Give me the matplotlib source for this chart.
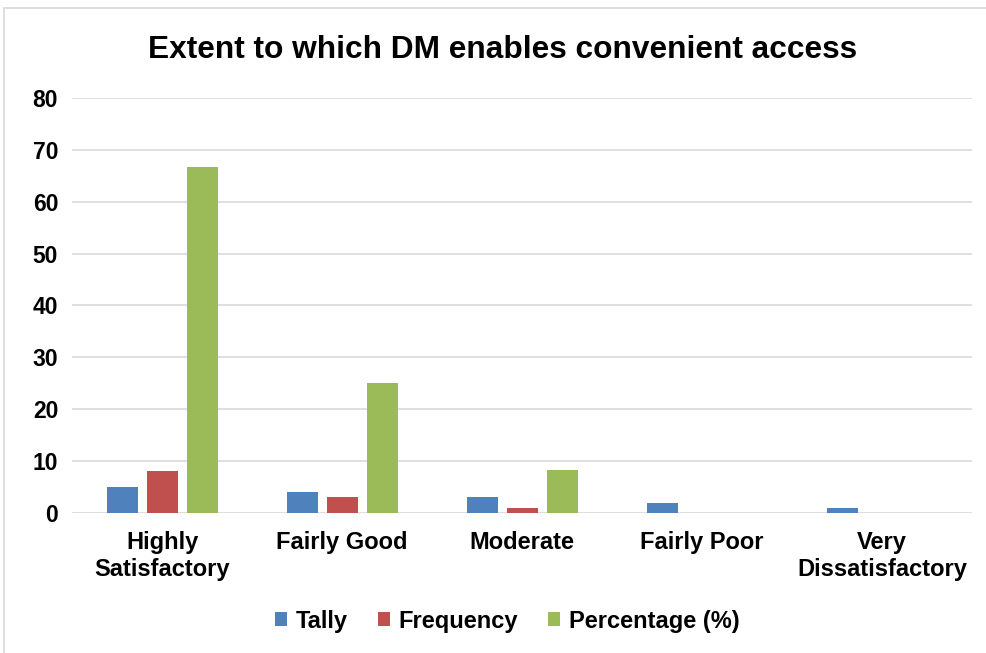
import matplotlib
matplotlib.use("Agg")
import matplotlib.pyplot as plt
import numpy as np
from matplotlib.patches import Rectangle

# Chart data
categories = ["Highly\nSatisfactory", "Fairly Good", "Moderate", "Fairly Poor", "Very\nDissatisfactory"]
tally = [5, 4, 3, 2, 1]
frequency = [8, 3, 1, 0, 0]
percentage = [66.67, 25, 8.33, 0, 0]

series_names = ["Tally", "Frequency", "Percentage (%)"]
colors = ["#4F81BD", "#C0504D", "#9BBB59"]

plt.rcParams["font.family"] = ["Liberation Sans", "DejaVu Sans"]
plt.rcParams["font.weight"] = "bold"

fig = plt.figure(figsize=(9.87, 6.53), dpi=100)
ax = fig.add_axes([0.073, 0.2144, 0.912, 0.6356])

x = np.arange(len(categories))
width = 0.172
step = 0.222
for i, (vals, name, col) in enumerate(zip([tally, frequency, percentage], series_names, colors)):
    ax.bar(x + (i - 1) * step, vals, width, color=col, label=name, zorder=3)

ax.set_xlim(-0.5, len(categories) - 0.5)
ax.set_ylim(0, 80)
ax.set_yticks(range(0, 81, 10))
ax.set_xticks(x)
ax.set_xticklabels(categories, fontsize=17, fontweight="bold", linespacing=1.2)
ax.tick_params(axis="y", labelsize=16.5, length=0, pad=10)
ax.tick_params(axis="x", length=0, pad=13)
for lbl in ax.get_yticklabels():
    lbl.set_fontweight("bold")

ax.grid(axis="y", color="#D9D9D9", linewidth=1.2, zorder=0)
for s in ax.spines.values():
    s.set_visible(False)

fig.text(0.509, 0.924, "Extent to which DM enables convenient access",
         ha="center", va="center", fontsize=22.8, fontweight="bold")

leg = fig.legend(loc="center", bbox_to_anchor=(0.514, 0.049), ncol=3, frameon=False,
                 prop={"size": 17, "weight": "bold"}, handlelength=0.5, handleheight=0.5,
                 handletextpad=0.35, columnspacing=1.3)

# light gray chart border
fig.patches.append(Rectangle((4 / 987, -0.01), 1.02, 1 - 8 / 653 + 0.01, transform=fig.transFigure,
                             fill=False, edgecolor="#D9D9D9", linewidth=1.2))

fig.savefig("out.png", dpi=100)
